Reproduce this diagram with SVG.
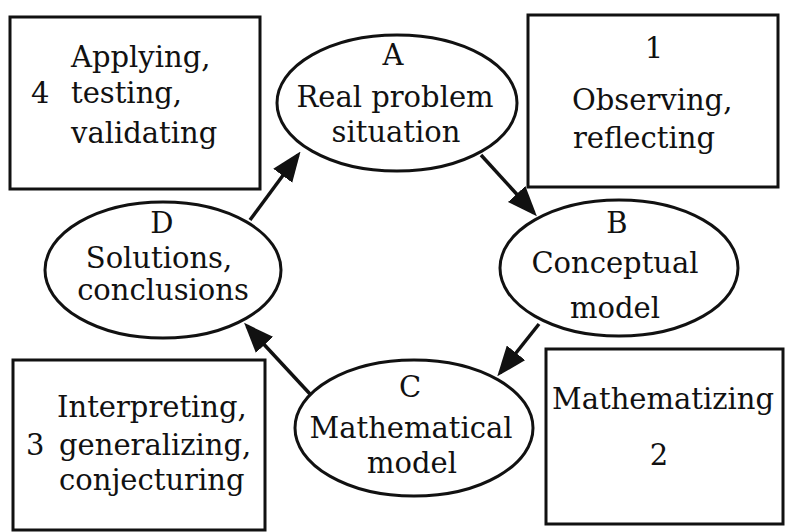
<svg xmlns="http://www.w3.org/2000/svg" width="786" height="532" viewBox="0 0 786 532">
<style>
.box{fill:none;stroke:#111;stroke-width:3}
.ell{fill:#fff;stroke:#111;stroke-width:3}
.t{font-family:"DejaVu Serif","Liberation Serif",serif;font-size:29px;fill:#111}
.m{text-anchor:middle}
.cn{stroke:#111;stroke-width:3.5;fill:none;marker-end:url(#ah)}
</style>
<defs>
<marker id="ah" markerUnits="userSpaceOnUse" markerWidth="30" markerHeight="24" refX="24" refY="11" orient="auto" viewBox="0 0 28 22">
<path d="M0,0 L28,11 L0,22 z" fill="#111"/>
</marker>
</defs>
<rect width="786" height="532" fill="#fff"/>
<g id="box4">
<rect class="box" x="10" y="17" width="250" height="172"/>
<text class="t" x="31" y="103">4</text>
<text class="t" x="71" y="67">Applying,</text>
<text class="t" x="71" y="103">testing,</text>
<text class="t" x="71" y="143">validating</text>
</g>
<g id="box1">
<rect class="box" x="528" y="15" width="250" height="172"/>
<text class="t m" x="654" y="58">1</text>
<text class="t" x="572" y="110">Observing,</text>
<text class="t" x="573" y="148">reflecting</text>
</g>
<g id="box3">
<rect class="box" x="13" y="360" width="252" height="170"/>
<text class="t" x="57" y="417">Interpreting,</text>
<text class="t" x="26" y="455">3</text>
<text class="t" x="59" y="455">generalizing,</text>
<text class="t" x="59" y="490">conjecturing</text>
</g>
<g id="box2">
<rect class="box" x="546" y="349" width="237" height="175"/>
<text class="t m" x="663" y="409">Mathematizing</text>
<text class="t m" x="659" y="465">2</text>
</g>
<g id="connectors">
<line class="cn" x1="481" y1="155" x2="534" y2="213"/>
<line class="cn" x1="539" y1="324" x2="500" y2="373"/>
<line class="cn" x1="310" y1="394" x2="247" y2="326"/>
<line class="cn" x1="250" y1="220" x2="298" y2="155"/>
</g>
<g id="nodeA">
<ellipse class="ell" cx="397" cy="103" rx="120" ry="68"/>
<text class="t m" x="393" y="65">A</text>
<text class="t m" x="395" y="107">Real problem</text>
<text class="t m" x="396" y="142">situation</text>
</g>
<g id="nodeB">
<ellipse class="ell" cx="619" cy="268" rx="119" ry="68"/>
<text class="t m" x="617" y="233">B</text>
<text class="t m" x="615" y="273">Conceptual</text>
<text class="t m" x="615" y="318">model</text>
</g>
<g id="nodeC">
<ellipse class="ell" cx="414" cy="428" rx="119" ry="68"/>
<text class="t m" x="410" y="397">C</text>
<text class="t m" x="411" y="438">Mathematical</text>
<text class="t m" x="412" y="473">model</text>
</g>
<g id="nodeD">
<ellipse class="ell" cx="163" cy="270" rx="118" ry="68"/>
<text class="t m" x="162" y="233">D</text>
<text class="t m" x="159" y="268">Solutions,</text>
<text class="t m" x="163" y="300">conclusions</text>
</g>
</svg>
